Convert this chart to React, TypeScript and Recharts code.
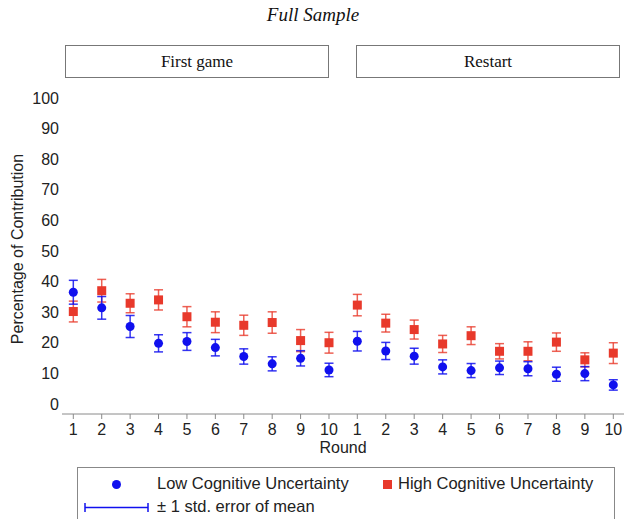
import React from "react";
import {
  ErrorBar,
  Label,
  Scatter,
  ScatterChart,
  XAxis,
  YAxis,
} from "recharts";

const rounds = [1, 2, 3, 4, 5, 6, 7, 8, 9, 10];
const yTicks = [0, 10, 20, 30, 40, 50, 60, 70, 80, 90, 100];

// first game
const lowFirst = [36.5, 31.4, 25.3, 19.8, 20.4, 18.4, 15.5, 13.1, 14.9, 11.1];
const lowFirstErr = [3.9, 3.7, 3.6, 2.8, 2.9, 2.7, 2.5, 2.3, 2.5, 2.2];
const highFirst = [30.2, 37.0, 32.9, 34.0, 28.5, 26.7, 25.7, 26.6, 20.7, 20.0];
const highFirstErr = [3.4, 3.7, 3.1, 3.3, 3.3, 3.4, 3.3, 3.5, 3.6, 3.4];

// restart
const lowRestart = [20.5, 17.3, 15.6, 12.1, 10.9, 11.8, 11.5, 9.7, 9.9, 6.2];
const lowRestartErr = [3.2, 2.8, 2.6, 2.3, 2.3, 2.2, 2.3, 2.3, 2.3, 1.7];
const highRestart = [32.3, 26.4, 24.3, 19.6, 22.3, 17.2, 17.2, 20.2, 14.4, 16.6];
const highRestartErr = [3.5, 2.9, 3.1, 2.8, 2.9, 2.5, 3.1, 3.0, 2.3, 3.4];

const BLUE = "#1010ee";
const RED = "#e8392b";
const AXIS = "#8a8a8a";
const SANS = "'Liberation Sans', Arial, sans-serif";
const SERIF = "'Liberation Serif', 'Times New Roman', serif";

const toRows = (vals: number[], errs: number[]) =>
  rounds.map((r, i) => ({ x: r, y: vals[i], err: errs[i] }));

const Dot = (props: any) => (
  <circle cx={props.cx} cy={props.cy} r={4.5} fill={BLUE} />
);
const Square = (props: any) => (
  <rect x={props.cx - 4.5} y={props.cy - 4.5} width={9} height={9} fill={RED} />
);

const tickStyle = { fontSize: 16, fill: "#222", fontFamily: SANS };

function Panel({
  low,
  high,
  width,
  xDomain,
  withY,
}: {
  low: { x: number; y: number; err: number }[];
  high: { x: number; y: number; err: number }[];
  width: number;
  xDomain: [number, number];
  withY: boolean;
}) {
  return (
    <ScatterChart
      width={width}
      height={445}
      margin={{ top: 98, right: 0, bottom: 1, left: 0 }}
    >
      <XAxis
        type="number"
        dataKey="x"
        domain={xDomain}
        ticks={rounds}
        allowDataOverflow
        height={30}
        tickSize={5}
        tickMargin={5}
        tick={tickStyle}
        stroke={AXIS}
        tickLine={{ stroke: AXIS }}
      />
      <YAxis
        type="number"
        dataKey="y"
        domain={[-3.3, 100]}
        ticks={yTicks}
        allowDataOverflow
        hide={!withY}
        width={withY ? 62 : 0}
        axisLine={false}
        tickLine={false}
        tickSize={1}
        tickMargin={2}
        tick={tickStyle}
      >
        {withY && (
          <Label
            content={() => (
              <text
                x={17}
                y={249}
                transform="rotate(-90 17 249)"
                textAnchor="middle"
                dominantBaseline="central"
                fontSize={16}
                fontFamily={SANS}
                fill="#222"
              >
                Percentage of Contribution
              </text>
            )}
          />
        )}
      </YAxis>
      <Scatter data={high} shape={Square} isAnimationActive={false}>
        <ErrorBar
          dataKey="err"
          direction="y"
          width={4.5}
          strokeWidth={1.5}
          stroke={RED}
          strokeOpacity={0.8}
          isAnimationActive={false}
        />
      </Scatter>
      <Scatter data={low} shape={Dot} isAnimationActive={false}>
        <ErrorBar
          dataKey="err"
          direction="y"
          width={4.5}
          strokeWidth={1.5}
          stroke={BLUE}
          strokeOpacity={0.85}
          isAnimationActive={false}
        />
      </Scatter>
    </ScatterChart>
  );
}

const headerBox: React.CSSProperties = {
  position: "absolute",
  top: 45,
  height: 33,
  border: "1px solid #777",
  boxSizing: "border-box",
  display: "flex",
  alignItems: "center",
  justifyContent: "center",
  fontFamily: SERIF,
  fontSize: 17,
  color: "#111",
  background: "#fff",
};

export default function App() {
  return (
    <div
      style={{
        position: "absolute",
        left: 0,
        top: 0,
        width: 624,
        height: 519,
        overflow: "hidden",
        background: "#fff",
      }}
    >
      <div
        style={{
          position: "absolute",
          top: 4,
          left: 0,
          width: 626,
          textAlign: "center",
          fontFamily: SERIF,
          fontStyle: "italic",
          fontSize: 19,
          color: "#111",
        }}
      >
        Full Sample
      </div>
      <div style={{ ...headerBox, left: 65, width: 264 }}>First game</div>
      <div style={{ ...headerBox, left: 356, width: 264 }}>Restart</div>

      <div style={{ position: "absolute", left: 0, top: 0 }}>
        <Panel
          low={toRows(lowFirst, lowFirstErr)}
          high={toRows(highFirst, highFirstErr)}
          width={344}
          xDomain={[0.602, 10.528]}
          withY
        />
      </div>
      <div style={{ position: "absolute", left: 344, top: 0 }}>
        <Panel
          low={toRows(lowRestart, lowRestartErr)}
          high={toRows(highRestart, highRestartErr)}
          width={280}
          xDomain={[0.532, 10.376]}
          withY={false}
        />
      </div>

      <div
        style={{
          position: "absolute",
          top: 439,
          left: 0,
          width: 686,
          textAlign: "center",
          fontFamily: SANS,
          fontSize: 16,
          color: "#222",
        }}
      >
        Round
      </div>

      <div
        style={{
          position: "absolute",
          left: 77,
          top: 467,
          width: 538,
          height: 70,
          border: "1px solid #888",
          boxSizing: "border-box",
          fontFamily: SANS,
          fontSize: 16.5,
          color: "#222",
        }}
      >
        <svg
          width={536}
          height={60}
          style={{ position: "absolute", left: 0, top: 0 }}
        >
          <circle cx={38.5} cy={16.5} r={4.5} fill={BLUE} />
          <rect x={305} y={12} width={9} height={9} fill={RED} />
          <line x1={7} x2={70} y1={39.5} y2={39.5} stroke={BLUE} strokeWidth={1.5} />
          <line x1={7} x2={7} y1={35} y2={44} stroke={BLUE} strokeWidth={1.5} />
          <line x1={70} x2={70} y1={35} y2={44} stroke={BLUE} strokeWidth={1.5} />
        </svg>
        <div style={{ position: "absolute", left: 79, top: 6 }}>
          Low Cognitive Uncertainty
        </div>
        <div style={{ position: "absolute", left: 320, top: 6 }}>
          High Cognitive Uncertainty
        </div>
        <div style={{ position: "absolute", left: 79, top: 29 }}>
          ± 1 std. error of mean
        </div>
      </div>
    </div>
  );
}
